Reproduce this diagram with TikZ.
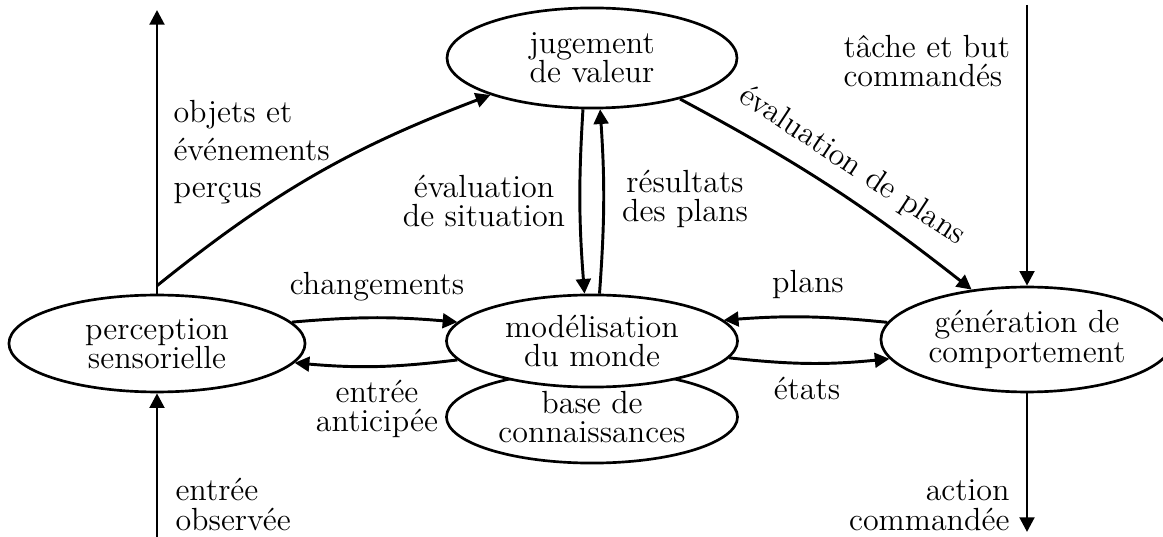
\documentclass[tikz,border=0pt]{standalone}
\usepackage{fontspec}
\usetikzlibrary{shapes.geometric,arrows.meta}
\begin{document}
\begin{tikzpicture}[x=0.3745pt,y=-0.3745pt,
  font=\fontsize{12}{11}\selectfont,
  bubble/.style={ellipse, draw, line width=1pt, fill=white, inner sep=0pt, align=center},
  flow/.style={line width=1.1pt, -{Triangle[length=5.5pt,width=5.5pt]}},
  lbl/.style={inner sep=0pt}]
\useasboundingbox (0,0) rectangle (1163,537);

% processing modules
\node[bubble, minimum width=110.9pt, minimum height=36.3pt] (perc) at (157,343.5) {perception\\sensorielle};
\node[bubble, minimum width=108.6pt, minimum height=37.5pt] (jug) at (592,58) {jugement\\de valeur};
\node[bubble, minimum width=109pt, minimum height=34.5pt] (base) at (592,417) {base de\\connaissances};
\node[bubble, minimum width=109pt, minimum height=34.5pt] (mod) at (592,341) {modélisation\\du monde};
\node[bubble, minimum width=109.4pt, minimum height=39.3pt] (gen) at (1027,339.5) {génération de\\comportement};

% free ends of the external flows
\coordinate (fork) at ([yshift=3pt]perc.north);
\coordinate (outTop) at (157,10);
\coordinate (obsIn) at (157,537);
\coordinate (taskIn) at (1027,5);
\coordinate (actOut) at (1027,532);

% external flows
\draw[flow] (perc.north) -- (outTop);
\draw[flow] (obsIn) -- (perc.south);
\draw[flow] (taskIn) -- (gen.north);
\draw[flow] (gen.south) -- (actOut);

% flows between modules
\draw[flow] (fork) to[bend left=9] (jug.200);
\draw[flow] (jug.-25) to[bend left=5]
  node[sloped, above, inner sep=5pt, pos=0.52] {évaluation de plans} (gen.138);
\draw[flow] (jug.260) to[bend right=4] (mod.99);
\draw[flow] (mod.81) to[bend right=4] (jug.279);
\draw[flow] (perc.9) to[bend left=5] (mod.172);
\draw[flow] (mod.188) to[bend left=6] (perc.-8);
\draw[flow] (gen.173) to[bend right=5] (mod.9);
\draw[flow] (mod.-7) to[bend right=6] (gen.188);

% flow labels
\node[lbl, anchor=base] at (377,295) {changements};
\node[lbl, align=center, anchor=base] at (377,432) {entrée\\anticipée};
\node[lbl, anchor=base] at (808,293) {plans};
\node[lbl, anchor=base] at (807,400) {états};
\node[lbl, align=center, anchor=base] at (484,227) {évaluation\\de situation};
\node[lbl, align=center, anchor=base] at (685,222) {résultats\\des plans};
\node[lbl, align=left, anchor=base west, font=\fontsize{12}{14.2}\selectfont] at (173,198) {objets et\\événements\\perçus};
\node[lbl, align=left, anchor=base west] at (843,87) {tâche et but\\commandés};
\node[lbl, align=right, anchor=base east] at (1010,530) {action\\commandée};
\node[lbl, align=left, anchor=base west] at (175,530) {entrée\\observée};
\end{tikzpicture}
\end{document}
